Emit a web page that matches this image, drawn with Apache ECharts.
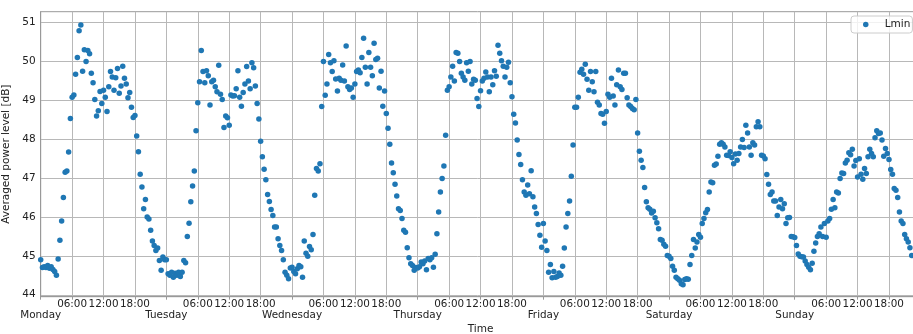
<!DOCTYPE html>
<html>
<head>
<meta charset="utf-8">
<script src="https://cdn.jsdelivr.net/npm/echarts@6/dist/echarts.min.js"></script>
<style>
  html, body { margin: 0; padding: 0; background: #fff; }
  #chart { width: 913px; height: 334px; }
</style>
</head>
<body>
<div id="chart"></div>
<script>
// day names under midnight ticks, time labels on the 6h ticks
var dayNames = ['Monday', 'Tuesday', 'Wednesday', 'Thursday', 'Friday', 'Saturday', 'Sunday'];
var hourLabels = ['06:00', '12:00', '18:00'];
var yTicks = [44, 45, 46, 47, 48, 49, 50, 51];
var stepHours = 1 / 3; // one reading every 20 minutes

// Lmin values per day
var monday = [
  44.9, 44.7, 44.72, 44.7, 44.75, 44.68, 44.72, 44.65, 44.6, 44.5, 44.92, 45.4,
  45.9, 46.5, 47.15, 47.18, 47.67, 48.53, 49.08, 49.14, 49.67, 50.1, 50.79, 50.94,
  49.75, 50.3, 50.0, 50.28, 50.2, 49.7, 49.45, 49.02, 48.6, 48.73, 49.23, 48.92,
  49.26, 49.08, 48.71, 49.35, 49.74, 49.6, 49.26, 49.58, 49.82, 49.18, 49.37, 49.88,
  49.57, 49.42, 49.07, 49.2, 48.82, 48.56, 48.61, 48.08, 47.68, 47.1, 46.77, 46.21,
  46.45, 46.0, 45.95, 45.66, 45.38, 45.27, 45.14, 45.2, 44.88, 44.63, 44.97, 44.9
];
var tuesday = [
  44.9, 44.54, 44.5, 44.58, 44.45, 44.55, 44.5, 44.58, 44.47, 44.58, 44.88, 44.82,
  45.5, 45.84, 46.39, 46.8, 47.18, 48.22, 48.94, 49.48, 50.28, 49.74, 49.45, 49.76,
  49.63, 48.88, 49.48, 49.52, 49.35, 49.22, 49.9, 49.16, 49.02, 48.3, 48.6, 48.55,
  48.36, 49.14, 49.11, 49.12, 49.3, 49.76, 49.08, 48.85, 49.2, 49.42, 49.87, 49.5,
  49.3, 49.97, 49.84, 49.37, 48.92, 48.52, 47.95, 47.55, 47.23, 46.96, 46.58, 46.4,
  46.19, 46.04, 45.74, 45.74, 45.44, 45.27, 45.14, 44.9, 44.58, 44.5, 44.41, 44.69
];
var wednesday = [
  44.71, 44.6, 44.54, 44.67, 44.75, 44.72, 44.45, 45.38, 45.07, 44.99, 45.24, 45.16,
  45.55, 46.56, 47.25, 47.18, 47.37, 48.84, 50.0, 49.13, 49.42, 50.18, 49.97, 49.74,
  50.02, 49.55, 49.24, 49.57, 49.52, 49.91, 49.5, 50.4, 49.35, 49.28, 49.32, 49.08,
  49.42, 49.74, 49.78, 49.71, 50.1, 50.6, 49.85, 49.42, 50.23, 49.85, 49.63, 50.47,
  50.05, 50.08, 49.32, 49.75, 48.85, 49.24, 48.66, 48.28, 47.87, 47.39, 47.14, 46.84,
  46.54, 46.21, 46.17, 45.96, 45.66, 45.61, 45.21, 44.95, 44.8, 44.75, 44.63, 44.7
];
var thursday = [
  44.69, 44.72, 44.84, 44.8, 44.87, 44.64, 44.93, 44.9, 44.95, 44.71, 45.04, 45.57,
  46.13, 46.64, 46.99, 47.31, 48.1, 49.26, 49.35, 49.6, 49.88, 49.5, 50.23, 50.21,
  50.0, 49.7, 49.6, 49.52, 49.97, 49.75, 50.0, 49.42, 49.54, 49.52, 49.05, 48.84,
  49.25, 49.5, 49.57, 49.73, 49.6, 49.22, 49.6, 49.4, 49.76, 49.62, 50.42, 50.21,
  50.02, 49.88, 49.6, 49.85, 49.98, 49.45, 49.09, 48.64, 48.42, 47.98, 47.61, 47.35,
  46.96, 46.64, 46.56, 46.82, 46.6, 47.19, 46.52, 46.26, 46.09, 45.81, 45.53, 45.22
];
var friday = [
  45.83, 45.38, 45.14, 44.58, 44.78, 44.44, 44.6, 44.45, 44.47, 44.56, 44.5, 44.73,
  45.2, 45.74, 46.09, 46.41, 47.05, 47.85, 48.82, 48.82, 49.08, 49.72, 49.8, 49.67,
  49.93, 49.54, 49.26, 49.74, 49.48, 49.22, 49.74, 48.95, 48.88, 48.66, 48.64, 48.41,
  48.71, 49.16, 49.08, 49.57, 49.11, 48.88, 49.4, 49.78, 49.35, 49.28, 49.7, 49.7,
  49.07, 48.88, 48.84, 48.79, 48.76, 49.02, 48.16, 47.69, 47.46, 47.27, 46.76, 46.39,
  46.24, 46.2, 46.1, 46.15, 45.98, 45.85, 45.7, 45.42, 45.4, 45.3, 45.25, 45.01
];
var saturday = [
  44.99, 44.93, 44.73, 44.63, 44.45, 44.41, 44.37, 44.28, 44.26, 44.39, 44.41, 44.4,
  44.78, 45.01, 45.42, 45.2, 45.36, 45.55, 45.48, 45.83, 45.96, 46.11, 46.19, 46.64,
  46.9, 46.88, 47.33, 47.36, 47.56, 47.87, 47.91, 47.87, 47.8, 47.59, 47.58, 47.68,
  47.53, 47.37, 47.62, 47.46, 47.63, 47.8, 47.99, 47.79, 48.36, 48.16, 47.8, 47.59,
  47.91, 47.85, 48.32, 48.45, 48.32, 47.59, 47.57, 47.5, 47.09, 46.84, 46.58, 46.64,
  46.41, 46.41, 46.04, 46.26, 46.45, 46.21, 46.34, 45.83, 45.98, 45.99, 45.5, 45.49
];
var sunday = [
  45.47, 45.27, 45.05, 44.99, 44.98, 44.97, 44.87, 44.78, 44.71, 44.64, 44.81, 45.12,
  45.33, 45.5, 45.57, 45.74, 45.5, 45.83, 45.48, 45.9, 45.96, 46.2, 46.45, 46.24,
  46.64, 46.62, 46.99, 47.13, 47.12, 47.39, 47.46, 47.65, 47.6, 47.74, 47.31, 47.45,
  47.03, 47.5, 47.1, 46.97, 47.25, 47.12, 47.55, 47.74, 47.63, 47.55, 48.04, 48.22,
  48.15, 48.16, 47.98, 47.56, 47.76, 47.63, 47.48, 47.22, 47.1, 46.73, 46.69, 46.5,
  46.13, 45.9, 45.83, 45.55, 45.44, 45.36, 45.21, 45.01
];

var week = [monday, tuesday, wednesday, thursday, friday, saturday, sunday];

// x = hours since Monday 00:00
var points = [];
week.forEach(function (vals, d) {
  vals.forEach(function (v, i) {
    points.push([d * 24 + i * stepHours, v]);
  });
});

var chart = echarts.init(document.getElementById('chart'));
var txt = '#222';
var gridColor = '#b8b8b8';
var spine = '#999';

chart.setOption({
  animation: false,
  textStyle: { fontFamily: 'DejaVu Sans' },
  grid: {
    left: 40.7,
    top: 11.7,
    width: 879.7,   // runs past the right edge, like the cropped original
    height: 285,
    outerBoundsMode: 'none',
    containLabel: false,
    show: true,
    borderColor: spine,
    borderWidth: 1
  },
  legend: {
    data: ['Lmin'],
    left: 851,
    top: 16,
    padding: [3, 2, 3, 12],
    icon: 'circle',
    itemWidth: 28,
    itemHeight: 5.5,
    backgroundColor: 'rgba(255,255,255,0.8)',
    borderColor: '#cccccc',
    borderWidth: 1,
    borderRadius: 3,
    textStyle: { color: txt, fontSize: 10.5, fontFamily: 'DejaVu Sans' }
  },
  xAxis: [{
    // time-of-day ticks, grid and axis title
    type: 'value',
    min: 0,
    max: 168,
    interval: 6,
    name: 'Time',
    nameLocation: 'middle',
    nameGap: 27,
    nameTextStyle: { color: txt, fontSize: 10.5 },
    axisLine: { lineStyle: { color: spine } },
    axisTick: { show: true, length: 3, lineStyle: { color: spine } },
    axisLabel: {
      color: txt,
      fontSize: 10.4,
      margin: 3,
      showMinLabel: true,
      showMaxLabel: false,
      formatter: function (v) {
        var h = Math.round(v) % 24;
        return h === 0 ? '' : hourLabels[h / 6 - 1];
      }
    },
    splitLine: { show: true, lineStyle: { color: gridColor, width: 1 } }
  }, {
    // day names one line below, at each midnight
    type: 'value',
    position: 'bottom',
    min: 0,
    max: 168,
    interval: 24,
    axisLine: { show: false },
    axisTick: { show: false },
    splitLine: { show: false },
    axisLabel: {
      color: txt,
      fontSize: 10.4,
      margin: 14,
      showMinLabel: true,
      showMaxLabel: false,
      formatter: function (v) {
        return dayNames[Math.round(v / 24)] || '';
      }
    }
  }],
  yAxis: {
    type: 'value',
    min: 43.95,
    max: 51.28,
    name: 'Averaged power level [dB]',
    nameLocation: 'middle',
    nameGap: 21,
    nameTextStyle: { color: txt, fontSize: 10.5 },
    axisLine: { show: true, lineStyle: { color: spine } },
    axisTick: { show: false, customValues: yTicks },
    axisLabel: { color: txt, fontSize: 10.5, margin: 5, customValues: yTicks },
    splitLine: { show: true, lineStyle: { color: gridColor, width: 1 } }
  },
  series: [{
    name: 'Lmin',
    type: 'scatter',
    xAxisIndex: 0,
    symbolSize: 5.5,
    itemStyle: { color: '#1f77b4', opacity: 1 },
    data: points
  }]
});
</script>
</body>
</html>
